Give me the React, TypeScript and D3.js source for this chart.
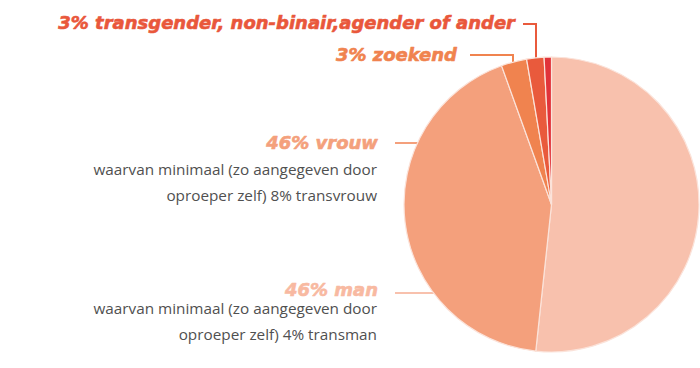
import React from "react";
import * as d3 from "d3";

const categories = ["man", "vrouw", "zoekend", "transgender", "overig"];
const values = [51.7, 42.8, 2.8, 1.9, 0.8];
const colors = ["#f8c1ad", "#f4a07c", "#f0834f", "#e95a3c", "#e1333a"];
const labelTitles = ["46% man", "46% vrouw", "3% zoekend", "3% transgender, non-binair,agender of ander"];
const subLines = [
  ["waarvan minimaal (zo aangegeven door", "oproeper zelf) 4% transman"],
  ["waarvan minimaal (zo aangegeven door", "oproeper zelf) 8% transvrouw"],
];

export default function App() {
  const W = 700, H = 368;
  const cx = 551.5, cy = 204.5, r = 147.5;
  const pie = d3.pie<number>().sort(null).startAngle(0).endAngle(2 * Math.PI);
  const arcs = pie(values);
  const arc = d3.arc<d3.PieArcDatum<number>>().innerRadius(0).outerRadius(r);
  const titleFont = "'DejaVu Sans', sans-serif";
  const bodyFont = "'Open Sans', Lato, sans-serif";
  const titleColors = ["#f8b9a1", colors[1], colors[2], "#e9573b"];
  return (
    <svg width={W} height={H} style={{ position: "absolute", left: 0, top: 0, background: "#fff" }}>
      <g fill="none" strokeWidth={2}>
        <line x1={395} x2={cx} y1={143} y2={143} stroke={colors[1]} />
        <line x1={395} x2={cx} y1={293} y2={293} stroke={colors[0]} />
        <polyline points={`470,55 513,55 513,66`} stroke={colors[2]} />
        <polyline points={`523,24 536,24 536,62`} stroke={colors[3]} />
      </g>
      <g transform={`translate(${cx},${cy})`}>
        {arcs.map((a, i) => (
          <path key={categories[i]} d={arc(a) || ""} fill={colors[i]} stroke="#fbe3da" strokeWidth={1.2} />
        ))}
      </g>
      <g fontFamily={titleFont} fontWeight="bold" fontStyle="oblique" textAnchor="end" fontSize={18} strokeWidth={0.6} strokeLinejoin="round">
        <text x={515} y={29} fill={titleColors[3]} stroke={titleColors[3]}>{labelTitles[3]}</text>
        <text x={457} y={61} fill={titleColors[2]} stroke={titleColors[2]}>{labelTitles[2]}</text>
        <text x={378} y={149} fill={titleColors[1]} stroke={titleColors[1]}>{labelTitles[1]}</text>
        <text x={378} y={296} fill={titleColors[0]} stroke={titleColors[0]}>{labelTitles[0]}</text>
      </g>
      <g fontFamily={bodyFont} fontSize={15.3} fill="#505050" textAnchor="end">
        {subLines[1].map((t, i) => (
          <text key={"v" + i} x={377} y={175 + i * 26}>{t}</text>
        ))}
        {subLines[0].map((t, i) => (
          <text key={"m" + i} x={377} y={314 + i * 26}>{t}</text>
        ))}
      </g>
    </svg>
  );
}
